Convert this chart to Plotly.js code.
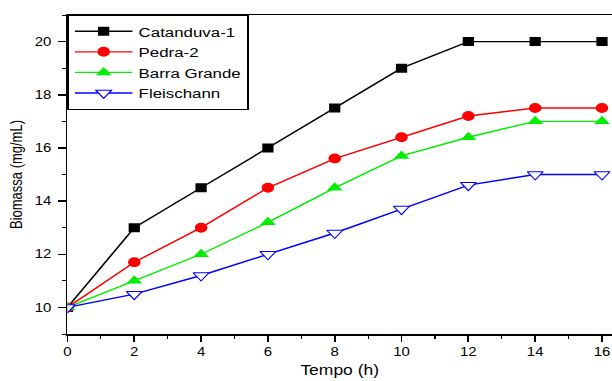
<!DOCTYPE html>
<html>
<head>
<script src="https://cdn.plot.ly/plotly-3.0.1.min.js"></script>
<style>
html,body{margin:0;padding:0;background:#fff;overflow:hidden;width:612px;height:381px;}
#chart{width:490px;height:381px;transform:scaleX(1.249);transform-origin:0 0;}
</style>
</head>
<body>
<div id="chart"></div>
<script>
const tempo = [0, 2, 4, 6, 8, 10, 12, 14, 16];
const catanduva = [10, 13, 14.5, 16, 17.5, 19, 20, 20, 20];
const pedra = [10, 11.7, 13, 14.5, 15.6, 16.4, 17.2, 17.5, 17.5];
const barra = [10, 11, 12, 13.2, 14.5, 15.7, 16.4, 17, 17];
const fleischann = [10, 10.5, 11.2, 12, 12.8, 13.7, 14.6, 15, 15];
const seriesNames = ['Catanduva-1', 'Pedra-2', 'Barra Grande', 'Fleischann'];

const traces = [
  {x: tempo, y: catanduva, name: seriesNames[0], mode: 'lines+markers',
   line: {color: '#000000', width: 1.4}, marker: {symbol: 'square', size: 9, color: '#000000'}},
  {x: tempo, y: pedra, name: seriesNames[1], mode: 'lines+markers',
   line: {color: '#ff0000', width: 1.4}, marker: {symbol: 'circle', size: 10, color: '#ff0000'}},
  {x: tempo, y: barra, name: seriesNames[2], mode: 'lines+markers',
   line: {color: '#00ee00', width: 1.4}, marker: {symbol: 'triangle-up', size: 11, color: '#00ee00'}},
  {x: tempo, y: fleischann, name: seriesNames[3], mode: 'lines+markers',
   line: {color: '#0000ff', width: 1.4}, marker: {symbol: 'triangle-down', size: 11, color: '#ffffff', line: {color: '#0000ff', width: 1}}}
];

const layout = {
  width: 490, height: 381,
  margin: {l: 54, r: 0, t: 15, b: 47},
  paper_bgcolor: '#ffffff', plot_bgcolor: '#ffffff',
  font: {family: 'Liberation Sans, Arial, sans-serif', color: '#000000', size: 12},
  showlegend: true,
  legend: {x: 0, y: 1, xanchor: 'left', yanchor: 'top', bordercolor: '#000000', borderwidth: 1,
           bgcolor: '#ffffff', font: {size: 13.5}, itemwidth: 46, tracegroupgap: 0},
  xaxis: {
    range: [0, 16.3], dtick: 2, tick0: 0, showgrid: false, zeroline: false,
    showline: true, linecolor: '#000000', linewidth: 1.5, mirror: true,
    ticks: 'outside', ticklen: 6, tickwidth: 1.5, tickcolor: '#000000',
    minor: {dtick: 1, ticks: 'outside', ticklen: 3, tickwidth: 1, tickcolor: '#000000'},
    title: {text: 'Tempo (h)', font: {size: 14}, standoff: 7},
    tickfont: {size: 12}
  },
  yaxis: {
    range: [9, 21], dtick: 2, tick0: 10, showgrid: false, zeroline: false,
    showline: true, linecolor: '#000000', linewidth: 1.5, mirror: true,
    ticks: 'outside', ticklen: 6, tickwidth: 1.5, tickcolor: '#000000',
    minor: {dtick: 1, ticks: 'outside', ticklen: 3, tickwidth: 1, tickcolor: '#000000'},
    ticklabelstandoff: 3,
    title: {text: 'Biomassa (mg/mL)', font: {size: 13}, standoff: 6},
    tickfont: {size: 12}
  }
};

Plotly.newPlot('chart', traces, layout, {displayModeBar: false, staticPlot: true});
</script>
</body>
</html>
